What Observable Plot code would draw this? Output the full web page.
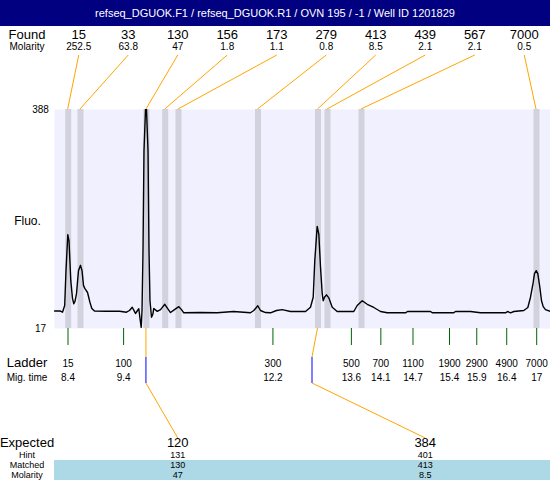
<!DOCTYPE html>
<html><head><meta charset="utf-8">
<script src="https://cdn.jsdelivr.net/npm/d3@7"></script>
<script src="https://cdn.jsdelivr.net/npm/@observablehq/plot@0.6"></script>
<style>body{margin:0;background:#fff} svg{display:block}</style>
</head><body><div id="chart"></div>
<script>
const title = "refseq_DGUOK.F1 / refseq_DGUOK.R1 / OVN 195 / -1 / Well ID 1201829";
const foundSizes = ["15","33","130","156","173","279","413","439","567","7000"];
const foundMolarity = ["252.5","63.8","47","1.8","1.1","0.8","8.5","2.1","2.1","0.5"];
const foundTimes = [8.394, 8.62, 9.83, 10.174, 10.418, 11.877, 12.978, 13.152, 13.776, 16.987];
const ladderSizes = ["15","100","300","500","700","1100","1900","2900","4900","7000"];
const ladderTimeLabels = ["8.4","9.4","12.2","13.6","14.1","14.7","15.4","15.9","16.4","17"];
const ladderTimes = [8.40, 9.42, 12.16, 13.60, 14.14, 14.73, 15.40, 15.90, 16.45, 17.00];
const expectedSizes = ["120","384"];
const expectedTimes = [9.83, 12.877];
const hintSizes = ["131","401"];
const matchedSizes = ["130","413"];
const matchedMolarity = ["47","8.5"];
const matchedFoundIndex = [2, 6];
const yTicks = [17, 388];
const timeDomain = [8.143, 17.244];
const traceTime = [8.143, 8.25, 8.29, 8.33, 8.354, 8.387, 8.409, 8.442, 8.473, 8.497,
  8.519, 8.547, 8.583, 8.62, 8.648, 8.675, 8.699, 8.749, 8.794, 8.828,
  8.877, 9.08, 9.336, 9.464, 9.519, 9.569, 9.593, 9.629, 9.666, 9.69,
  9.712, 9.734, 9.749, 9.767, 9.785, 9.813, 9.831, 9.859, 9.877, 9.895,
  9.923, 9.947, 9.965, 10.028, 10.089, 10.167, 10.217, 10.272, 10.345, 10.424,
  10.473, 10.516, 10.822, 11.128, 11.428, 11.739, 11.8, 11.873, 11.923, 12.015,
  12.106, 12.216, 12.321, 12.473, 12.749, 12.84, 12.89, 12.919, 12.963, 12.993,
  13.024, 13.055, 13.073, 13.097, 13.134, 13.176, 13.239, 13.33, 13.635, 13.697,
  13.789, 13.881, 14.002, 14.125, 14.248, 14.583, 14.62, 15.042, 15.079, 15.464,
  15.501, 15.776, 15.96, 16.419, 16.455, 16.51, 16.571, 16.754, 16.828, 16.877,
  16.927, 16.95, 16.982, 17.011, 17.048, 17.079, 17.11, 17.152, 17.244];
const traceFluo = [46.6, 46.6, 44.6, 56, 115, 176, 166, 98, 68, 59,
  63, 76, 115, 124, 115, 90, 85, 78, 61, 51,
  46.6, 46.3, 46.3, 44.6, 47.5, 53, 49, 42.4, 47.5, 50.4,
  34, 19, 47.5, 149, 318, 388, 388, 318, 149, 64,
  36, 41, 51, 46, 49, 58, 51, 44, 49, 54,
  49, 43.6, 44, 43.6, 45.8, 43.6, 47.5, 55.5, 47.5, 44,
  43.6, 47.5, 49, 45.8, 45.8, 53, 70, 132, 190, 177,
  121, 76, 64, 70, 74, 69, 53, 45.8, 45.8, 56,
  64, 58, 52.6, 45.8, 43.6, 43.6, 45.8, 45.8, 43.6, 43.6,
  45.8, 45.8, 43.6, 43.6, 45.8, 43.6, 45.8, 47.5, 52.6, 70,
  95, 110, 115, 110, 87, 64, 54, 49, 45.8];

const trace = traceTime.map((t, i) => ({t, v: traceFluo[i]}));
const FONT = "Liberation Sans, Arial, Helvetica, sans-serif";

const plot = Plot.plot({
  width: 550, height: 480,
  marginTop: 109, marginBottom: 152, marginLeft: 54, marginRight: 0,
  x: {domain: timeDomain, axis: null},
  y: {domain: [yTicks[0], yTicks[1]], axis: null},
  style: {fontFamily: FONT, background: "white", color: "black"},
  marks: [
    Plot.frame({fill: "#f0f0fe", stroke: null}),
    Plot.ruleX(foundTimes, {x: d => d, stroke: "#d2d2de", strokeWidth: 6}),
    Plot.line(trace, {x: "t", y: "v", stroke: "black", strokeWidth: 1.4, clip: true}),
    Plot.text(yTicks, {y: d => d, text: d => String(d), frameAnchor: "left", dx: -14, textAnchor: "middle", fontSize: 10, fill: "black"}),
    Plot.text(["Fluo."], {text: d => d, frameAnchor: "left", dx: -27, dy: 2, textAnchor: "middle", fontSize: 12, fill: "black"})
  ]
});
document.getElementById("chart").appendChild(plot);

const svg = d3.select(plot);
const xs = plot.scale("x");
const X = t => xs.apply(t);
const cols = n => { const b = d3.scaleBand().domain(d3.range(n)).range([54, 549]); return i => b(i) + b.bandwidth() / 2; };
const colTop = cols(foundSizes.length);
const colBot = cols(expectedSizes.length);
const LABX = 27;
const g = svg.append("g").attr("font-family", FONT).attr("fill", "black");
function txt(x, y, s, size) {
  g.append("text").attr("x", x).attr("y", y).attr("text-anchor", "middle").attr("font-size", size).text(s);
}
function ln(x1, y1, x2, y2, color) {
  g.append("line").attr("x1", x1).attr("y1", y1).attr("x2", x2).attr("y2", y2)
    .attr("stroke", color).attr("stroke-width", 1);
}

// title bar
g.append("rect").attr("x", 0).attr("y", 0).attr("width", 550).attr("height", 26).attr("fill", "#000080");
g.append("text").attr("x", 275).attr("y", 17).attr("text-anchor", "middle").attr("font-size", 11)
  .attr("fill", "white").text(title);

// found rows
txt(LABX, 39, "Found", 13);
txt(LABX, 50, "Molarity", 10);
foundSizes.forEach((s, i) => {
  txt(colTop(i), 39, s, 13);
  txt(colTop(i), 50, foundMolarity[i], 10);
  ln(colTop(i), 55, X(foundTimes[i]), 109, "#ffa500");
});

// ladder
txt(LABX, 367, "Ladder", 13);
txt(LABX, 381, "Mig. time", 10);
ladderSizes.forEach((s, i) => {
  ln(X(ladderTimes[i]), 328, X(ladderTimes[i]), 345, "#006400");
  txt(X(ladderTimes[i]), 367, s, 10);
  txt(X(ladderTimes[i]), 381, ladderTimeLabels[i], 10);
});

// matched connectors
expectedSizes.forEach((s, j) => {
  const fx = X(foundTimes[matchedFoundIndex[j]]);
  const ex = X(expectedTimes[j]);
  ln(fx, 328, ex, 357, "#ffa500");
  ln(ex, 357, ex, 383, "#0000ff");
  ln(ex, 383, colBot(j), 438, "#ffa500");
});

// bottom table
g.append("rect").attr("x", 54).attr("y", 460).attr("width", 496).attr("height", 20).attr("fill", "#add8e6");
txt(LABX, 447, "Expected", 13);
txt(LABX, 457.8, "Hint", 9);
txt(LABX, 468.2, "Matched", 9);
txt(LABX, 478.4, "Molarity", 9);
expectedSizes.forEach((s, j) => {
  txt(colBot(j), 447, s, 13);
  txt(colBot(j), 457.8, hintSizes[j], 9);
  txt(colBot(j), 468.2, matchedSizes[j], 9);
  txt(colBot(j), 478.4, matchedMolarity[j], 9);
});
</script></body></html>
